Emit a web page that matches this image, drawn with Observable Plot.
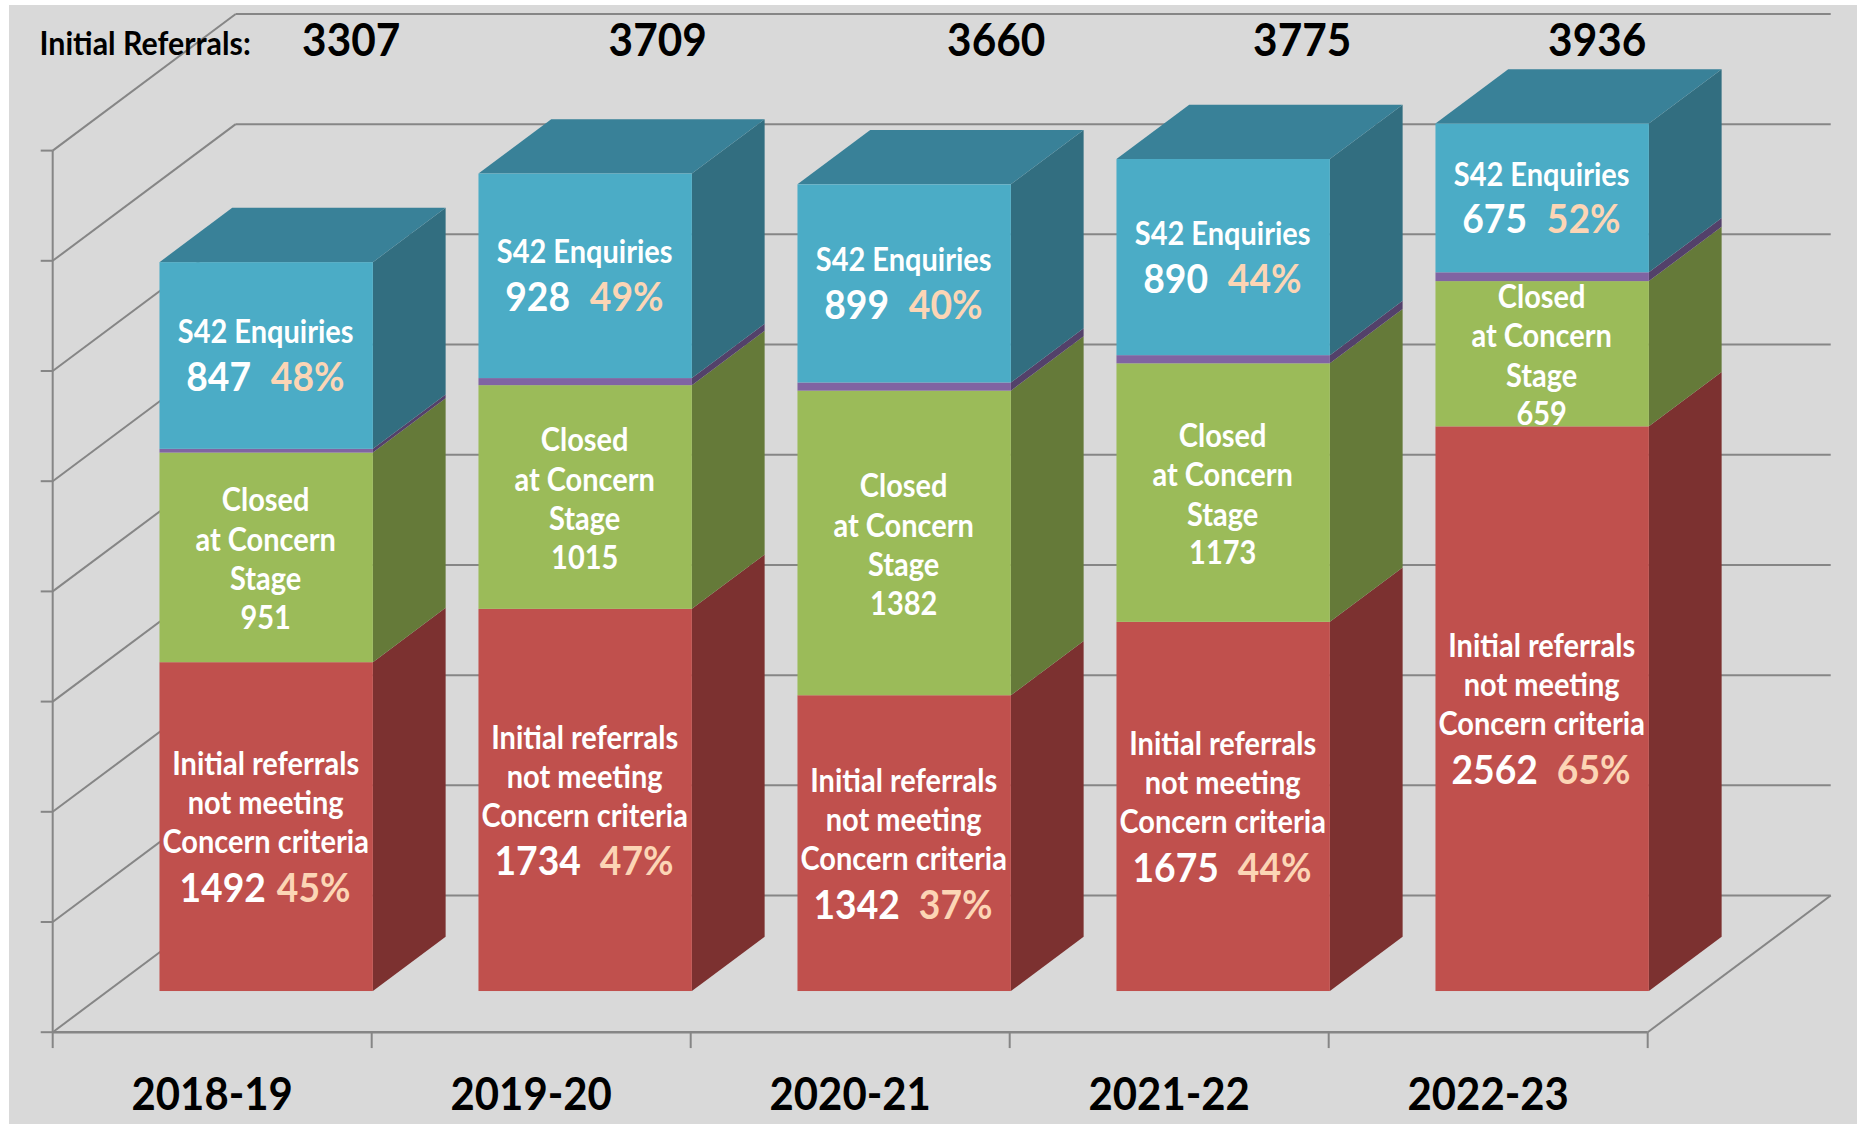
<!DOCTYPE html>
<html>
<head>
<meta charset="utf-8">
<script src="https://cdn.jsdelivr.net/npm/d3@7"></script>
<script src="https://cdn.jsdelivr.net/npm/@observablehq/plot@0.6"></script>
<style>
html,body{margin:0;padding:0;background:#fff;overflow:hidden;width:1857px;height:1124px}
#bg{position:absolute;left:9px;top:5px;right:0;bottom:0;background:#d9d9d9}
#chart{position:absolute;left:0;top:0}
</style>
</head>
<body>
<div id="bg"></div>
<div id="chart"></div>
<script>
// ---- data ----
const years = ["2018-19","2019-20","2020-21","2021-22","2022-23"];
const totals = [3307,3709,3660,3775,3936];
const notMeeting = [1492,1734,1342,1675,2562];
const notMeetingPct = [45,47,37,44,65];
const closedAtConcern = [951,1015,1382,1173,659];
const other = [17,32,37,37,40];
const s42 = [847,928,899,890,675];
const s42Pct = [48,49,40,44,52];
const yTicks = [0,500,1000,1500,2000,2500,3000,3500,4000];
const xTicks = [0,1,2,3,4,5];

// ---- pseudo-3D projection, in scale units ----
const DX = 0.5737, DY = 620;       // depth of the whole chart box
const D0 = 0.2977, BD = 0.3975;    // where the bars sit in depth, and their depth
const BW = 0.669;                  // bar width
const GRID = "#868686";

const fills = {
  red:{front:"#c0504d",side:"#7c3130"},
  green:{front:"#9bbb59",side:"#657a39"},
  purple:{front:"#8064a2",side:"#53416a"},
  blue:{front:"#4bacc6",side:"#326e80"}
};
const TOP = "#398198";

const segs = [];
years.forEach((yr,i)=>{
  let base = 0;
  [["red",notMeeting[i]],["green",closedAtConcern[i]],["purple",other[i]],["blue",s42[i]]].forEach(([k,v])=>{
    segs.push({i,yr,k,v,y1:base,y2:base+v,
      x1:i+0.5-BW/2,x2:i+0.5+BW/2,
      key:yr+k,front:fills[k].front,side:fills[k].side});
    base += v;
  });
});
const px = d => d + D0*DX, py = v => v + D0*DY;
const sidePts = segs.flatMap(s=>[0,1].map(t=>({key:s.key,side:s.side,
  x:px(s.x2)+t*BD*DX, y1:py(s.y1)+t*BD*DY, y2:py(s.y2)+t*BD*DY})));
const topPts = segs.filter(s=>s.k==="blue").flatMap(s=>[0,1].map(t=>({key:s.key,
  y:py(s.y2)+t*BD*DY, x1:px(s.x1)+t*BD*DX, x2:px(s.x2)+t*BD*DX})));

// text helpers
const center = s => px((s.x1+s.x2)/2);
const mid = s => py((s.y1+s.y2)/2);
const label = (k,text,dy,opt={}) => Plot.text(opt.rows||segs.filter(s=>s.k===k),{
  x:center,y:mid,text,dy:dy+1,dx:(opt.dx||0)-1,fill:opt.fill||"#fff",
  fontSize:opt.size||31.5,fontWeight:"bold",lineAnchor:"middle"});
const PEACH = "#fcd5b5";
const redSegs = segs.filter(s=>s.k==="red");
const totalNudge = [139,126.5,146,133,109];

const plot = Plot.plot({
  width:1857,height:1124,
  marginLeft:0,marginRight:0,marginTop:0,marginBottom:0,
  x:{domain:[0,6],range:[52.2,52.2+6*319],axis:null},
  y:{domain:[0,5000],range:[1031.7,1031.7-5000*0.2204],axis:null},
  style:{background:"transparent",fontFamily:"Lato",overflow:"visible"},
  marks:[
    // back wall gridlines
    Plot.link(yTicks,{x1:DX,x2:5+DX,y1:v=>v+DY,y2:v=>v+DY,stroke:GRID,strokeWidth:2}),
    // side wall diagonals
    Plot.link(yTicks,{x1:0,x2:DX,y1:v=>v,y2:v=>v+DY,stroke:GRID,strokeWidth:2}),
    // floor right edge
    Plot.link([0],{x1:5,x2:5+DX,y1:0,y2:DY,stroke:GRID,strokeWidth:2}),
    // vertical axis + ticks
    Plot.link([0],{x1:0,x2:0,y1:0,y2:4000,stroke:GRID,strokeWidth:2}),
    Plot.link(yTicks,{x1:-0.0376,x2:0,y1:v=>v,y2:v=>v,stroke:GRID,strokeWidth:2}),
    // horizontal axis + ticks
    Plot.link([0],{x1:0,x2:5,y1:0,y2:0,stroke:GRID,strokeWidth:2.5}),
    Plot.link(xTicks,{x1:v=>v,x2:v=>v,y1:0,y2:-72,stroke:GRID,strokeWidth:2}),
    // bars
    Plot.area(sidePts,{x1:"x",y1:"y1",y2:"y2",z:"key",fill:d=>d.side}),
    Plot.area(topPts,{y1:"y",x1:"x1",x2:"x2",z:"key",fill:TOP}),
    Plot.rect(segs,{x1:s=>px(s.x1),x2:s=>px(s.x2),y1:s=>py(s.y1),y2:s=>py(s.y2),fill:d=>d.front}),
    // blue labels
    label("blue",()=>"S42 Enquiries",-24),
    label("blue",s=>String(s.v),21,{size:40.5,dx:-47}),
    label("blue",s=>s42Pct[s.i]+"%",21,{size:40.5,dx:42,fill:PEACH}),
    // green labels
    label("green",()=>"Closed",-57.5),
    label("green",()=>"at Concern",-18),
    label("green",()=>"Stage",21.5),
    label("green",s=>String(s.v),60),
    // red labels
    label("red",()=>"Initial referrals",-63),
    label("red",()=>"not meeting",-24),
    label("red",()=>"Concern criteria",15),
    label("red",s=>String(s.v),61,{size:40.5,dx:-47,rows:redSegs.slice(1)}),
    label("red",s=>notMeetingPct[s.i]+"%",61,{size:40.5,dx:52,fill:PEACH,rows:redSegs.slice(1)}),
    label("red",s=>String(s.v),61,{size:40.5,dx:-43,rows:redSegs.slice(0,1)}),
    label("red",s=>notMeetingPct[s.i]+"%",61,{size:40.5,dx:48,fill:PEACH,rows:redSegs.slice(0,1)}),
    // category labels
    Plot.text(years,{x:(d,i)=>i+0.5,y:0,text:d=>d,dy:63.5,fontSize:45.5,fontWeight:"bold",fill:"#000",lineAnchor:"middle"}),
    // top row
    Plot.text(["Initial Referrals:"],{frameAnchor:"top-left",dx:39,dy:31,fontSize:33,fontWeight:"bold",fill:"#000",lineAnchor:"top"}),
    Plot.text(totals,{x:(d,i)=>i+0.5+totalNudge[i]/319,frameAnchor:"top",dy:41,text:d=>String(d),fontSize:46,fontWeight:"bold",fill:"#000",lineAnchor:"middle"})
  ]
});
document.getElementById("chart").appendChild(plot);
// Lato condensed slightly to the proportions of the reference's face
plot.querySelectorAll("text").forEach(t=>{
  const w=t.getComputedTextLength();
  t.setAttribute("textLength",w*0.92);
  t.setAttribute("lengthAdjust","spacingAndGlyphs");
});
</script>
</body>
</html>
